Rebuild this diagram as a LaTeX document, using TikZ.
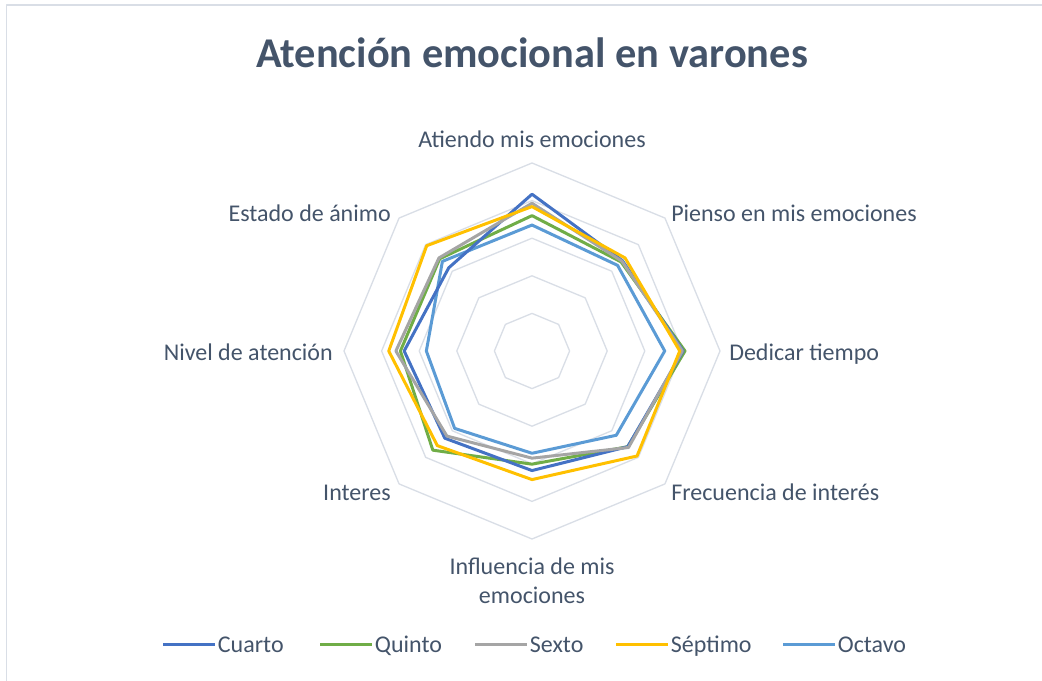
\documentclass[tikz,border=0pt]{standalone}
\usepackage{fontspec}
\setmainfont{Carlito}
\usetikzlibrary{positioning}

\definecolor{textc}{HTML}{44546A}
\definecolor{gridc}{HTML}{D9DEE6}
\definecolor{cuartoc}{HTML}{4472C4}
\definecolor{quintoc}{HTML}{70AD47}
\definecolor{sextoc}{HTML}{A5A5A5}
\definecolor{septimoc}{HTML}{FFC000}
\definecolor{octavoc}{HTML}{5B9BD5}

\def\ringsep{37.6}

\begin{document}
\begin{tikzpicture}[x=0.75pt,y=0.75pt,line join=round]
	\tikzstyle{grid}=[draw=gridc, line width=1pt]
	\tikzstyle{frame}=[draw=gridc, line width=1.2pt]
	\tikzstyle{series}=[line width=2.25pt]
	\tikzstyle{cuarto line}=[series, draw=cuartoc]
	\tikzstyle{quinto line}=[series, draw=quintoc]
	\tikzstyle{sexto line}=[series, draw=sextoc]
	\tikzstyle{septimo line}=[series, draw=septimoc]
	\tikzstyle{octavo line}=[series, draw=octavoc]
	\tikzstyle{axis label}=[text=textc, font=\fontsize{18}{21.75}\selectfont, inner sep=0pt]
	\tikzstyle{legend text}=[axis label, inner sep=2pt]
	
	\useasboundingbox (0,0) rectangle (1042,681);
	
	% Chart frame (only top and left edges are visible)
	\coordinate (F-tl) at (6.5,676);
	\coordinate (F-tr) at (1042,676);
	\coordinate (F-bl) at (6.5,0);
	\draw[frame] (F-bl) -- (F-tl) -- (F-tr);
	
	% Title
	\node[text=textc, font=\fontsize{31.8}{38}\selectfont\bfseries, anchor=base] (title) at (532,613) {Atención emocional en varones};
	
	\begin{scope}[shift={(532,330)}]
	% Draw the grid rings
	\foreach \r in {1,...,5}
	\draw[grid] (90:\r*\ringsep) \foreach \a in {45,0,...,-225}{ -- (\a:\r*\ringsep)} -- cycle;
	
	% Data points of every series, clockwise from the top axis
	\foreach \v [count=\k] in {4.17,3.40,4.02,3.60,3.18,3.28,3.40,3.13}
	\coordinate (Cu-\k) at (135-45*\k:\v*\ringsep);
	\foreach \v [count=\k] in {3.60,3.35,4.07,3.60,3.01,3.73,3.50,3.47}
	\coordinate (Qu-\k) at (135-45*\k:\v*\ringsep);
	\foreach \v [count=\k] in {3.93,3.38,4.00,3.63,2.85,3.20,3.62,3.50}
	\coordinate (Se-\k) at (135-45*\k:\v*\ringsep);
	\foreach \v [count=\k] in {3.84,3.50,3.93,3.95,3.42,3.56,3.81,3.96}
	\coordinate (Sp-\k) at (135-45*\k:\v*\ringsep);
	\foreach \v [count=\k] in {3.35,3.22,3.53,3.17,2.72,2.91,2.81,3.37}
	\coordinate (Oc-\k) at (135-45*\k:\v*\ringsep);
	
	% Draw the series
	\draw[octavo line] (Oc-1) \foreach \k in {2,...,8}{ -- (Oc-\k)} -- cycle;
	\draw[quinto line] (Qu-1) \foreach \k in {2,...,8}{ -- (Qu-\k)} -- cycle;
	\draw[cuarto line] (Cu-1) \foreach \k in {2,...,8}{ -- (Cu-\k)} -- cycle;
	\draw[sexto line] (Se-1) \foreach \k in {2,...,8}{ -- (Se-\k)} -- cycle;
	\draw[septimo line] (Sp-1) \foreach \k in {2,...,8}{ -- (Sp-\k)} -- cycle;
	
	% Annotate the axes
	\node[axis label, anchor=mid] (L-1) at (0,207) {Atiendo mis emociones};
	\node[axis label, anchor=mid west] (L-2) at (139,133) {Pienso en mis emociones};
	\node[axis label, anchor=mid west] (L-3) at (197,-6) {Dedicar tiempo};
	\node[axis label, anchor=mid west] (L-4) at (139,-146) {Frecuencia de interés};
	\node[axis label, align=center] (L-5) at (0,-230) {Influencia de mis\\emociones};
	\node[axis label, anchor=mid east] (L-6) at (-141,-146) {Interes};
	\node[axis label, anchor=mid east] (L-7) at (-199,-6) {Nivel de atención};
	\node[axis label, anchor=mid east] (L-8) at (-141,133) {Estado de ánimo};
	\end{scope}
	
	% Legend
	\foreach \x/\txt/\col [count=\i] in {163/Cuarto/cuarto,320/Quinto/quinto,475/Sexto/sexto,616/Séptimo/septimo,783/Octavo/octavo}{
		\coordinate (K-\i) at (\x,36);
		\coordinate (K-\i-end) at (\x+52,36);
		\draw[\col\space line] (K-\i) -- (K-\i-end);
		\node[legend text, right=0pt of K-\i-end, anchor=mid west, yshift=-3pt] (T-\i) {\txt};
	}
	
\end{tikzpicture}
\end{document}
